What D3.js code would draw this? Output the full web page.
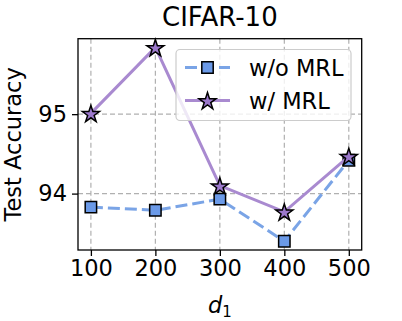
<!DOCTYPE html>
<html>
<head>
<meta charset="utf-8">
<script src="https://cdn.jsdelivr.net/npm/d3@7"></script>
<style>
  body { margin: 0; background: #fff; }
  svg { display: block; font-family: "DejaVu Sans", sans-serif; }
</style>
</head>
<body>
<svg width="402" height="321"></svg>
<script>
const dims = [100, 200, 300, 400, 500];
const withoutMRL = [93.83, 93.79, 93.93, 93.40, 94.42];
const withMRL = [95.01, 95.84, 94.10, 93.77, 94.47];
const xTicks = [100, 200, 300, 400, 500];
const yTicks = [94, 95];

const svg = d3.select("svg");
const plotL = 78, plotR = 361.7, plotT = 38.7, plotB = 250;

const x = d3.scaleLinear().domain([80, 520]).range([plotL, plotR]);
const y = d3.scaleLinear().domain([93.29, 95.95]).range([plotB, plotT]);

// grid
const grid = svg.append("g")
    .attr("stroke", "#b0b0b0")
    .attr("stroke-width", 1.2)
    .attr("stroke-dasharray", "5,3");
xTicks.forEach(t => {
  grid.append("line").attr("x1", x(t)).attr("x2", x(t)).attr("y1", plotT).attr("y2", plotB);
});
yTicks.forEach(t => {
  grid.append("line").attr("x1", plotL).attr("x2", plotR).attr("y1", y(t)).attr("y2", y(t));
});

// axes
const xAxis = svg.append("g")
    .attr("transform", `translate(0,${plotB})`)
    .call(d3.axisBottom(x).tickValues(xTicks).tickSize(6).tickPadding(4).tickSizeOuter(0));
const yAxis = svg.append("g")
    .attr("transform", `translate(${plotL},0)`)
    .call(d3.axisLeft(y).tickValues(yTicks).tickFormat(d3.format("d")).tickSize(6).tickPadding(5).tickSizeOuter(0));
[xAxis, yAxis].forEach(a => {
  a.select(".domain").remove();
  a.selectAll("line").attr("stroke", "#000").attr("stroke-width", 1.3);
  a.selectAll("text").attr("fill", "#000").style("font-size", "22.5px").style("font-family", "DejaVu Sans");
});

svg.append("rect")
    .attr("x", plotL).attr("y", plotT)
    .attr("width", plotR - plotL).attr("height", plotB - plotT)
    .attr("fill", "none").attr("stroke", "#000").attr("stroke-width", 1.3);

const line = d3.line().x((d, i) => x(dims[i])).y(d => y(d));

const blueLine = "#7aa4e6", blueFill = "#6b9ae8";
const purpleLine = "#a98ad0", purpleFill = "#9c79cc";

svg.append("path")
    .datum(withoutMRL)
    .attr("d", line)
    .attr("fill", "none")
    .attr("stroke", blueLine)
    .attr("stroke-width", 3)
    .attr("stroke-dasharray", "12,5");

svg.selectAll(".sq")
    .data(withoutMRL)
    .enter()
    .append("path")
    .attr("class", "sq")
    .attr("transform", (d, i) => `translate(${x(dims[i])},${y(d)})`)
    .attr("d", d3.symbol(d3.symbolSquare, 130))
    .attr("fill", blueFill)
    .attr("stroke", "#000")
    .attr("stroke-width", 1.5);

svg.append("path")
    .datum(withMRL)
    .attr("d", line)
    .attr("fill", "none")
    .attr("stroke", purpleLine)
    .attr("stroke-width", 3);

svg.selectAll(".star")
    .data(withMRL)
    .enter()
    .append("path")
    .attr("class", "star")
    .attr("transform", (d, i) => `translate(${x(dims[i])},${y(d) + 1})`)
    .attr("d", d3.symbol(d3.symbolStar, 90))
    .attr("fill", purpleFill)
    .attr("stroke", "#000")
    .attr("stroke-width", 1.5);

// legend
const legend = svg.append("g");
legend.append("rect")
    .attr("x", 176).attr("y", 49.5)
    .attr("width", 175).attr("height", 71)
    .attr("rx", 4)
    .attr("fill", "#fff").attr("fill-opacity", 0.8)
    .attr("stroke", "#cccccc").attr("stroke-width", 1.2);

const entries = [
  { label: "w/o MRL", stroke: blueLine, fill: blueFill, dash: "12,5", sym: d3.symbolSquare, size: 130, dy: 0 },
  { label: "w/ MRL", stroke: purpleLine, fill: purpleFill, dash: null, sym: d3.symbolStar, size: 90, dy: 1 }
];
entries.forEach((e, i) => {
  const ly = 67.5 + i * 33;
  legend.append("line")
      .attr("x1", 185).attr("x2", 230).attr("y1", ly).attr("y2", ly)
      .attr("stroke", e.stroke).attr("stroke-width", 3)
      .attr("stroke-dasharray", e.dash);
  legend.append("path")
      .attr("transform", `translate(207.5,${ly + e.dy})`)
      .attr("d", d3.symbol(e.sym, e.size))
      .attr("fill", e.fill).attr("stroke", "#000").attr("stroke-width", 1.5);
  legend.append("text")
      .attr("x", 249).attr("y", ly + 8)
      .text(e.label)
      .style("font-size", "22.5px")
      .attr("fill", "#000");
});

// title and labels
svg.append("text")
    .attr("x", (plotL + plotR) / 2).attr("y", 26)
    .attr("text-anchor", "middle")
    .style("font-size", "26px")
    .text("CIFAR-10");

svg.append("text")
    .attr("transform", `translate(21,${(plotT + plotB) / 2}) rotate(-90)`)
    .attr("text-anchor", "middle")
    .style("font-size", "22.5px")
    .text("Test Accuracy");

const xl = svg.append("text")
    .attr("x", (plotL + plotR) / 2).attr("y", 313)
    .attr("text-anchor", "middle")
    .style("font-size", "22.5px");
xl.append("tspan").style("font-style", "italic").text("d");
xl.append("tspan").attr("dy", 4).style("font-size", "15px").text("1");
</script>
</body>
</html>
